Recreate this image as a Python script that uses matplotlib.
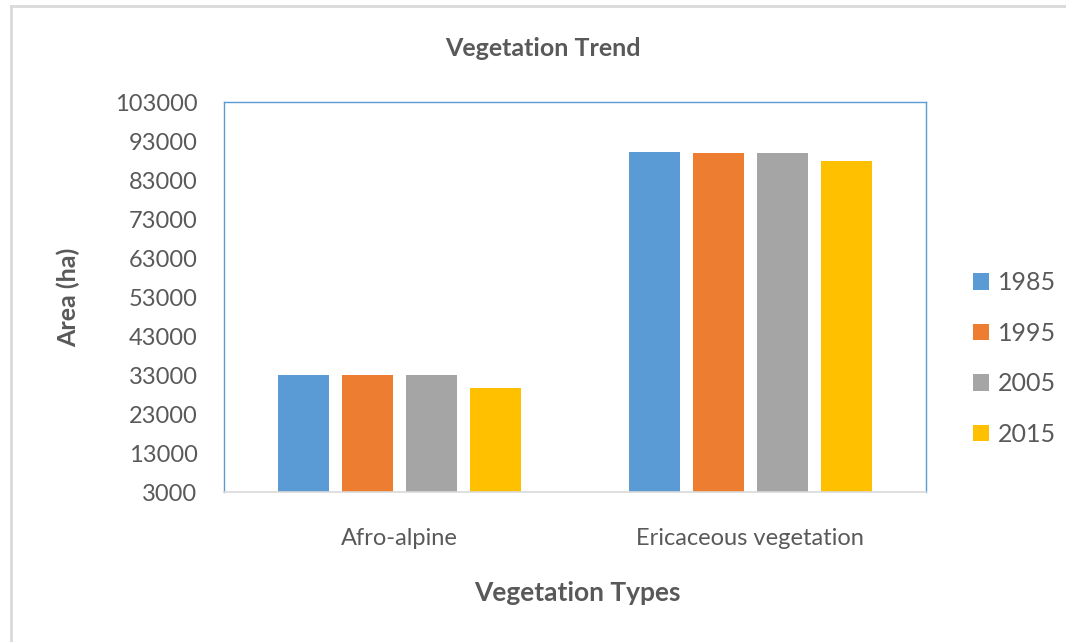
import numpy as np
import matplotlib
matplotlib.use("Agg")
import matplotlib.pyplot as plt
from matplotlib.lines import Line2D

plt.rcParams["font.family"] = ["Lato", "DejaVu Sans"]

# Data
categories = ["Afro-alpine", "Ericaceous vegetation"]
years = ["1985", "1995", "2005", "2015"]
area_1985 = [33000, 90200]
area_1995 = [33000, 89900]
area_2005 = [33000, 89900]
area_2015 = [29600, 87800]
series = [area_1985, area_1995, area_2005, area_2015]
colors = ["#5B9BD5", "#ED7D31", "#A5A5A5", "#FFC000"]
yticks = [3000, 13000, 23000, 33000, 43000, 53000, 63000, 73000, 83000, 93000, 103000]

text_color = "#595959"

fig = plt.figure(figsize=(10.66, 6.42), dpi=100)
ax = fig.add_axes([0.210, 0.2336, 0.6585, 0.6075])

x = np.arange(len(categories))
slot = 0.182
width = 0.145
for i, (vals, year, color) in enumerate(zip(series, years, colors)):
    offs = (i - 1.5) * slot
    ax.bar(x + offs, np.array(vals) - 3000, bottom=3000, width=width,
           color=color, label=year, zorder=2)

ax.set_xlim(-0.5, 1.5)
ax.set_ylim(3000, 103000)
ax.set_yticks(yticks)
ax.set_yticklabels([str(t) for t in yticks])
ax.set_xticks(x)
ax.set_xticklabels(categories)
ax.tick_params(axis="both", length=0, colors=text_color, labelsize=17)
ax.tick_params(axis="x", pad=26)
ax.tick_params(axis="y", pad=19)

for side in ["left", "top", "right"]:
    ax.spines[side].set_color("#5B9BD5")
    ax.spines[side].set_linewidth(1.0)
ax.spines["bottom"].set_color("#D9D9D9")
ax.spines["bottom"].set_linewidth(1.2)

fig.text(0.509, 0.925, "Vegetation Trend", ha="center", va="center",
         fontsize=18, fontweight="bold", color=text_color)
fig.text(0.542, 0.077, "Vegetation Types", ha="center", va="center",
         fontsize=19, fontweight="bold", color=text_color)
fig.text(0.064, 0.537, "Area (ha)", ha="center", va="center", rotation=90,
         fontsize=18, fontweight="bold", color=text_color)

leg = ax.legend(loc="center left", bbox_to_anchor=(1.035, 0.342), frameon=False,
                fontsize=18, labelcolor=text_color, handlelength=0.65,
                handleheight=0.65, handletextpad=0.35, labelspacing=1.1)

# outer chart border (top and left edges visible)
fig.add_artist(Line2D([0.010, 1.0], [0.991, 0.991], transform=fig.transFigure,
                      color="#D9D9D9", linewidth=2))
fig.add_artist(Line2D([0.010, 0.010], [0.0, 0.991], transform=fig.transFigure,
                      color="#D9D9D9", linewidth=2))

fig.savefig("out.png", dpi=100)
